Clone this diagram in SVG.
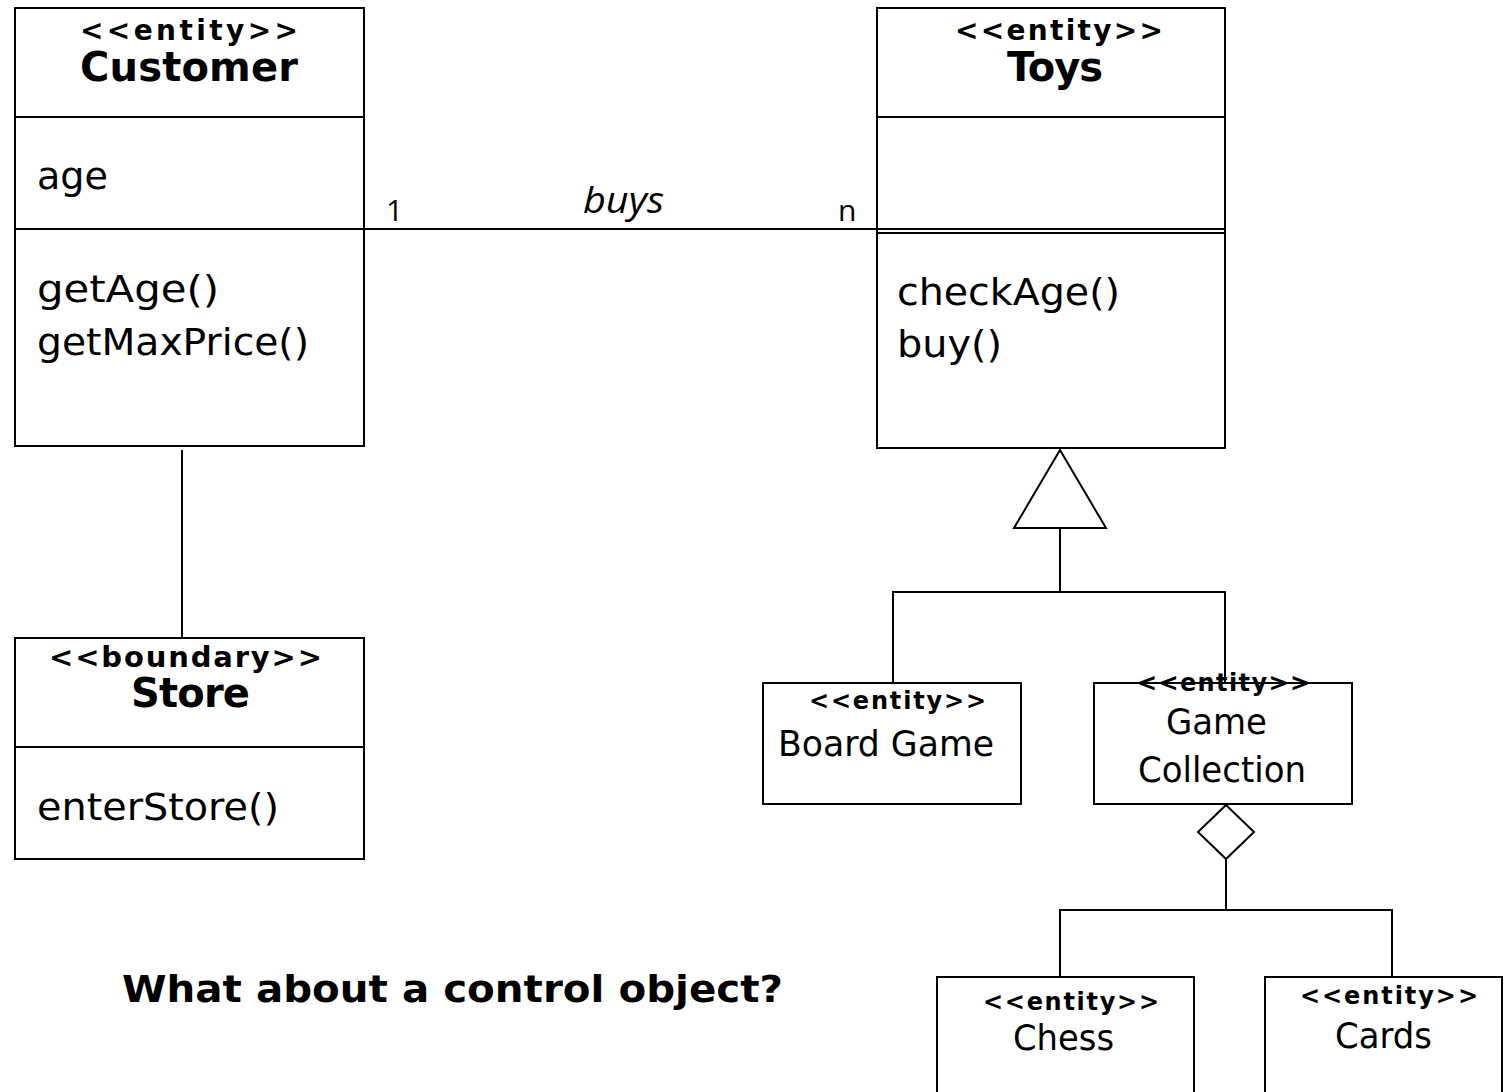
<svg xmlns="http://www.w3.org/2000/svg" width="1504" height="1092" viewBox="0 0 1504 1092">
  <style>
    .box { fill: #fff; stroke: #000; stroke-width: 2; }
    .div { stroke: #000; stroke-width: 2; }
    .edge { fill: none; stroke: #000; stroke-width: 2; }
    .st { font-family: "DejaVu Sans", Verdana, sans-serif; font-weight: bold; fill: #000; }
    .nm { font-family: "DejaVu Sans", Verdana, sans-serif; font-weight: bold; fill: #000; }
    .tx { font-family: "DejaVu Sans", Verdana, sans-serif; fill: #000; }
    .lb { font-family: "Open Sans", "DejaVu Sans", sans-serif; fill: #000; }
  </style>
  <rect width="1504" height="1092" fill="#fff"/>

  <!-- connectors -->
  <g id="connectors">
    <!-- association Customer - Toys -->
    <line class="edge" x1="364" y1="229" x2="877" y2="229"/>
    <!-- Customer - Store -->
    <line class="edge" x1="182" y1="450" x2="182" y2="638"/>
    <!-- generalization to Toys -->
    <polygon class="edge" points="1060,450 1106,528 1014,528"/>
    <polyline class="edge" points="1060,528 1060,592"/>
    <polyline class="edge" points="893,683 893,592 1225,592 1225,683"/>
    <!-- aggregation from Game Collection -->
    <polygon class="edge" points="1226,805 1254,832 1226,859 1198,832"/>
    <polyline class="edge" points="1226,859 1226,910"/>
    <polyline class="edge" points="1060,977 1060,910 1392,910 1392,977"/>
    <!-- association labels -->
    <text class="lb" x="386" y="221" font-size="30">1</text>
    <text class="lb" x="583" y="213" font-size="37" font-style="italic" textLength="81" lengthAdjust="spacingAndGlyphs">buys</text>
    <text class="lb" x="838" y="221" font-size="30">n</text>
  </g>

  <!-- Customer -->
  <g id="customer">
    <rect class="box" x="15" y="8" width="349" height="438"/>
    <line class="div" x1="15" y1="117" x2="364" y2="117"/>
    <line class="div" x1="15" y1="229" x2="364" y2="229"/>
    <text class="st" x="80" y="40" font-size="28" textLength="218">&lt;&lt;entity&gt;&gt;</text>
    <text class="nm" x="80" y="81" font-size="40" textLength="218">Customer</text>
    <text class="tx" x="37" y="189" font-size="38" textLength="71" lengthAdjust="spacingAndGlyphs">age</text>
    <text class="tx" x="37" y="302" font-size="38" textLength="182" lengthAdjust="spacingAndGlyphs">getAge()</text>
    <text class="tx" x="37" y="355" font-size="38" textLength="272" lengthAdjust="spacingAndGlyphs">getMaxPrice()</text>
  </g>

  <!-- Toys -->
  <g id="toys">
    <rect class="box" x="877" y="8" width="348" height="440"/>
    <line class="div" x1="877" y1="117" x2="1225" y2="117"/>
    <line class="div" x1="877" y1="229" x2="1225" y2="229"/>
    <line class="div" x1="877" y1="233" x2="1225" y2="233"/>
    <text class="st" x="955" y="40" font-size="28" textLength="208">&lt;&lt;entity&gt;&gt;</text>
    <text class="nm" x="1007" y="81" font-size="40" textLength="96">Toys</text>
    <text class="tx" x="897" y="305" font-size="38" textLength="223" lengthAdjust="spacingAndGlyphs">checkAge()</text>
    <text class="tx" x="897" y="357" font-size="38" textLength="105" lengthAdjust="spacingAndGlyphs">buy()</text>
  </g>

  <!-- Store -->
  <g id="store">
    <rect class="box" x="15" y="638" width="349" height="221"/>
    <line class="div" x1="15" y1="747" x2="364" y2="747"/>
    <text class="st" x="49" y="667" font-size="29" textLength="273">&lt;&lt;boundary&gt;&gt;</text>
    <text class="nm" x="131" y="707" font-size="40" textLength="119">Store</text>
    <text class="tx" x="37" y="820" font-size="38" textLength="242" lengthAdjust="spacingAndGlyphs">enterStore()</text>
  </g>

  <!-- Board Game -->
  <g id="board-game">
    <rect class="box" x="763" y="683" width="258" height="121"/>
    <text class="st" x="809" y="709" font-size="24" textLength="177">&lt;&lt;entity&gt;&gt;</text>
    <text class="tx" x="778" y="756" font-size="36" textLength="216" lengthAdjust="spacingAndGlyphs">Board Game</text>
  </g>

  <!-- Game Collection -->
  <g id="game-collection">
    <rect class="box" x="1094" y="683" width="258" height="121"/>
    <text class="st" x="1137" y="691" font-size="24" textLength="173">&lt;&lt;entity&gt;&gt;</text>
    <text class="tx" x="1166" y="734" font-size="36" textLength="101" lengthAdjust="spacingAndGlyphs">Game</text>
    <text class="tx" x="1138" y="782" font-size="36" textLength="168" lengthAdjust="spacingAndGlyphs">Collection</text>
  </g>

  <!-- Chess -->
  <g id="chess">
    <rect class="box" x="937" y="977" width="257" height="130"/>
    <text class="st" x="983" y="1010" font-size="24" textLength="176">&lt;&lt;entity&gt;&gt;</text>
    <text class="tx" x="1013" y="1050" font-size="36" textLength="101" lengthAdjust="spacingAndGlyphs">Chess</text>
  </g>

  <!-- Cards -->
  <g id="cards">
    <rect class="box" x="1265" y="977" width="237" height="130"/>
    <text class="st" x="1300" y="1004" font-size="24" textLength="178">&lt;&lt;entity&gt;&gt;</text>
    <text class="tx" x="1335" y="1048" font-size="36" textLength="97" lengthAdjust="spacingAndGlyphs">Cards</text>
  </g>

  <!-- free note -->
  <text class="nm" x="122" y="1002" font-size="38" textLength="661" lengthAdjust="spacingAndGlyphs">What about a control object?</text>
</svg>
